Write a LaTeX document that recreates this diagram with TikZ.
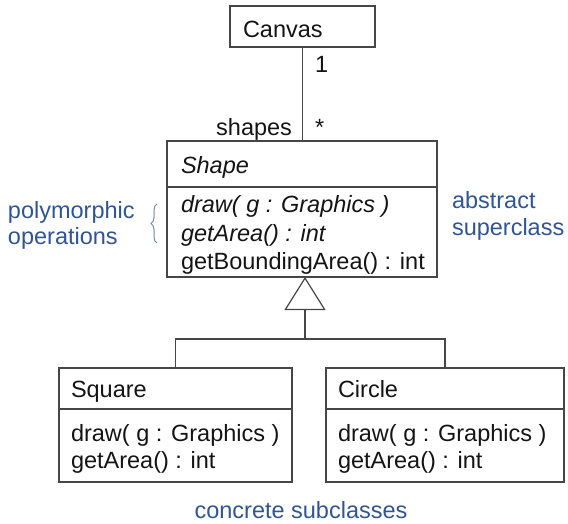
\documentclass[tikz,border=0pt]{standalone}
\usepackage{fontspec}
\setmainfont{Liberation Sans}
\usetikzlibrary{arrows.meta,decorations.pathreplacing}
\definecolor{notecol}{RGB}{47,85,151}
\definecolor{edgecol}{RGB}{70,70,70}
\definecolor{bracecol}{RGB}{115,135,168}
\definecolor{inkcol}{RGB}{20,20,20}

\begin{document}
\begin{tikzpicture}[x=1pt,y=-1pt,
  every node/.style={inner sep=0pt,outer sep=0pt},
  box/.style={draw=edgecol,line width=1.2pt,rectangle,anchor=north west},
  txt/.style={anchor=base west,font=\fontsize{23.5}{28}\selectfont,text=inkcol},
  itxt/.style={txt,font=\fontsize{23.5}{28}\selectfont\itshape},
  note/.style={anchor=base west,font=\fontsize{23.5}{28}\selectfont,text=notecol},
  link/.style={draw=edgecol,line width=1.2pt}]

\useasboundingbox (0,0) rectangle (568,523);

% class boxes (compartments)
\node[box,minimum width=145pt,minimum height=41pt] (canvas) at (230,6) {};
\node[box,minimum width=270pt,minimum height=46pt] (shapename) at (167,141) {};
\node[box,minimum width=270pt,minimum height=90pt] (shapeops) at (167,187) {};
\node[box,minimum width=233pt,minimum height=41pt] (squarename) at (59,368) {};
\node[box,minimum width=233pt,minimum height=73pt] (squareops) at (59,409) {};
\node[box,minimum width=238pt,minimum height=41pt] (circlename) at (326,368) {};
\node[box,minimum width=238pt,minimum height=73pt] (circleops) at (326,409) {};

% class texts
\node[txt] (canvaslbl) at (243,37) {Canvas};
\node[itxt] (shapelbl) at (181,173) {Shape};
\node[itxt] (op1) at (181,212) {draw( g : Graphics )};
\node[itxt] (op2) at (181,241) {getArea() : int};
\node[txt] (op3) at (181,269) {getBoundingArea() : int};
\node[txt] (squarelbl) at (71,397) {Square};
\node[txt] (sqop1) at (71,441) {draw( g : Graphics )};
\node[txt] (sqop2) at (71,468) {getArea() : int};
\node[txt] (circlelbl) at (338,397) {Circle};
\node[txt] (ciop1) at (338,441) {draw( g : Graphics )};
\node[txt] (ciop2) at (338,468) {getArea() : int};

% association Canvas -- Shape
\draw[link] (canvas.south) -- (canvas.south |- shapename.north);
\node[txt] (mult1) at (315,72) {1};
\node[txt] (multn) at (315,135) {*};
\node[txt,anchor=base east] (role) at (292,135) {shapes};

% generalisation
\coordinate (fork) at (305,339);
\draw[link] (squarename.north) |- (fork) -| (circlename.north);
\draw[link,-{Triangle[open,length=33pt,width=41pt,line width=1.2pt]}]
  (fork) -- (fork |- shapeops.south);

% annotations
\node[note] (poly1) at (8,218) {polymorphic};
\node[note] (poly2) at (8,244) {operations};
\coordinate (braceA) at (157,243);
\coordinate (braceB) at (157,204);
\draw[bracecol,line width=1pt,decorate,decoration={brace,amplitude=6pt}] (braceA) -- (braceB);
\node[note] (abs1) at (452,208) {abstract};
\node[note] (abs2) at (452,235) {superclass};
\node[note,anchor=base] (conc) at (301,518) {concrete subclasses};

\end{tikzpicture}
\end{document}
